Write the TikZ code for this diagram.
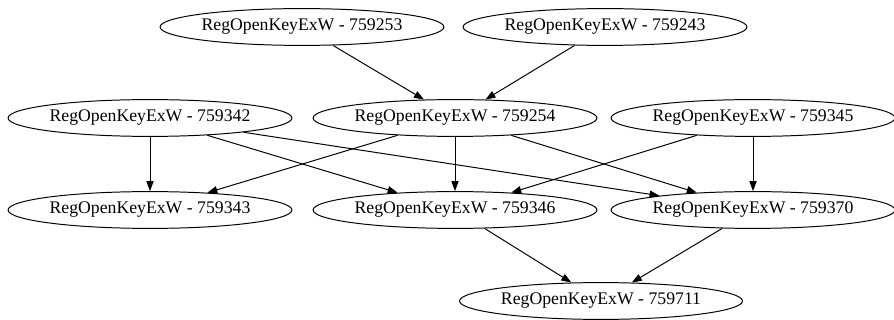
\documentclass[tikz,border=0pt]{standalone}
\usepackage{fontspec}
\setmainfont{Liberation Serif}
\usetikzlibrary{arrows.meta, positioning, shapes.geometric}

\begin{document}
\begin{tikzpicture}[
    x=0.025cm, y=-0.025cm,
    every node/.style={font=\fontsize{12.6}{15}\selectfont}, % 统一字体
    key/.style={draw, ellipse, line width=0.7pt, inner sep=0pt,
        minimum width=7.05cm, minimum height=0.92cm}, % 椭圆节点
    edge/.style={line width=0.7pt, -{Triangle[length=0.25cm, width=0.18cm]}} % 有向边
]
    % 0. 固定画布大小
    \useasboundingbox (0, 0) rectangle (894, 320);

    % 1. 第一层
    \node[key] (k253) at (302, 27) {RegOpenKeyExW - 759253};
    \node[key] (k243) at (605, 27) {RegOpenKeyExW - 759243};

    % 2. 第二层
    \node[key] (k342) at (150, 118) {RegOpenKeyExW - 759342};
    \node[key] (k254) at (455, 118) {RegOpenKeyExW - 759254};
    \node[key] (k345) at (753, 118) {RegOpenKeyExW - 759345};

    % 3. 第三层
    \node[key] (k343) at (150, 210) {RegOpenKeyExW - 759343};
    \node[key] (k346) at (455, 210) {RegOpenKeyExW - 759346};
    \node[key] (k370) at (753, 210) {RegOpenKeyExW - 759370};

    % 4. 第四层
    \node[key] (k711) at (601, 301) {RegOpenKeyExW - 759711};

    % 5. 连线
    \foreach \a/\b in {k253/k254, k243/k254,
                       k342/k343, k342/k346, k342/k370,
                       k254/k343, k254/k346, k254/k370,
                       k345/k346, k345/k370,
                       k346/k711, k370/k711} {
        \draw[edge] (\a) -- (\b);
    }

\end{tikzpicture}
\end{document}
